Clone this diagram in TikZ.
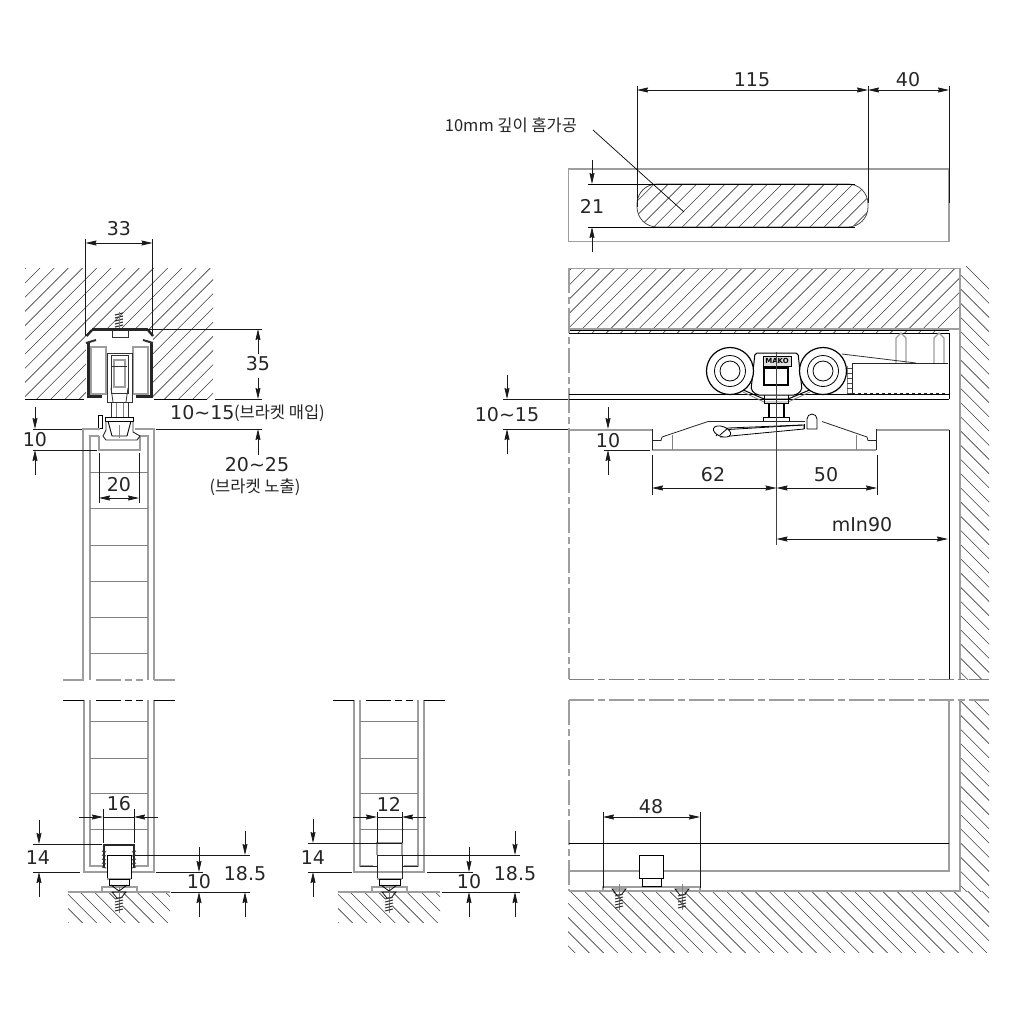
\documentclass[tikz,border=0pt]{standalone}
\usepackage{fontspec}
\setmainfont{DejaVu Sans}
\newfontfamily\krfont{Noto Sans CJK KR}
\usetikzlibrary{arrows.meta}
\definecolor{linegray}{gray}{0.62}
\tikzset{
	dimplain/.style={inner sep=0pt,font=\fontsize{19}{19}\selectfont,text=black!85},
	krtext/.style={inner sep=0pt,font=\krfont\fontsize{16.5}{16.5}\selectfont,text=black!85},
	dimline/.style={line width=0.8pt,black!90},
	dimarrow/.style={line width=0.8pt,black!90,-{Stealth[inset=1pt,length=11pt,width=5pt]}},
	hatchline/.style={line width=0.6pt,black!75},
	grayline/.style={line width=1.2pt,linegray},
	blackline/.style={line width=0.9pt,black},
	heavyline/.style={line width=3pt,black!85},
	breakline/.style={dash pattern=on 25pt off 4pt on 7pt off 4pt},
	screw/.pic={
		\draw[line width=0.7pt] (-7,0)--(7,0)--(2,6)--(-2,6)--cycle;
		\draw[line width=0.5pt,gray] (0,-5)--(0,21);
		\foreach \t in {7,10,...,19} \draw[line width=1pt,black!80] (-4,\t)--(4,\t-2);
	}
}
\begin{document}
\begin{tikzpicture}[x=1pt,y=-1pt]
	\useasboundingbox[fill=white] (0,0) rectangle (1020,1020);

	% hatching
	\begin{scope}
		\clip (25,268) rectangle (213,399);
		\foreach \i in {-10,...,22} \draw[hatchline] (40+14.2*\i,268)--++(-140,140);
	\end{scope}
	\begin{scope}
		\clip (569,268) rectangle (960,333);
		\foreach \i in {0,...,30} \draw[hatchline] (572+14.2*\i,268)--++(-70,70);
	\end{scope}
	\begin{scope}
		\clip (960,266) rectangle (989,679);
		\foreach \i in {0,...,32} \draw[hatchline] (960,260+14.2*\i)--++(40,40);
	\end{scope}
	\begin{scope}
		\clip (960,700) rectangle (989,891);
		\foreach \i in {0,...,16} \draw[hatchline] (960,672+14.2*\i)--++(40,40);
	\end{scope}
	\begin{scope}
		\clip (568,891) rectangle (989,952);
		\foreach \i in {-5,...,30} \draw[hatchline] (570+14.2*\i,891)--++(70,70);
	\end{scope}
	\begin{scope}
		\clip[rounded corners=20pt] (637,184) rectangle (868,227);
		\foreach \i in {0,...,20} \draw[hatchline] (640+14.2*\i,184)--++(-50,50);
	\end{scope}

	% slot in door edge
	\draw[grayline] (568.5,169) rectangle (949,241.5);
	\draw[line width=0.8pt,black!70,rounded corners=20pt] (637,184) rectangle (868,227);
	\draw[blackline] (588,184)--(855,184);
	\draw[blackline] (588,227)--(855,227);
	\draw[dimline] (637,86)--(637,207);
	\draw[dimline] (868,86)--(868,203);
	\draw[dimline] (949,86)--(949,203);
	\draw[dimarrow] (680,90)--(637,90);
	\draw[dimarrow] (820,90)--(868,90);
	\draw[dimline] (680,90)--(820,90);
	\draw[dimarrow] (890,90)--(868,90);
	\draw[dimarrow] (925,90)--(949,90);
	\draw[dimline] (890,90)--(925,90);
	\node[dimplain] (d115) at (752,80) {115};
	\node[dimplain] (d40) at (908,80) {40};
	\node[krtext] (slotlabel) at (511,125) {10mm 깊이 홈가공};
	\coordinate (slotend) at (684,212);
	\draw[line width=0.7pt] (593,130)--(slotend);
	\draw[dimarrow] (592,160)--(592,184);
	\draw[dimarrow] (592,252)--(592,227);
	\node[dimplain] (d21) at (592,206) {21};

	% section, ceiling and track
	\fill[white] (85.5,330) rectangle (152.5,399.5);
	\draw[blackline] (25,399.5)--(84,399.5);
	\draw[blackline] (154,399.5)--(207,399.5);
	\draw[dimline] (85.5,239)--(85.5,336);
	\draw[dimline] (152.5,239)--(152.5,336);
	\draw[dimarrow] (107,243)--(85.5,243);
	\draw[dimarrow] (131,243)--(152.5,243);
	\draw[dimline] (107,243)--(131,243);
	\node[dimplain] (d33) at (119,229) {33};
	\foreach \t in {314,317,...,326} \draw[line width=1.2pt,black!80] (115,\t+1)--(123,\t-1);
	\draw[line width=0.5pt,gray] (119,312)--(119,329);
	\draw[line width=2.4pt,black!85] (92,329.5)--(148,329.5);
	\draw[line width=2.4pt,black!85,line join=bevel] (86.5,336)--(92,330);
	\draw[line width=2.4pt,black!85,line join=bevel] (153,336)--(148,330);
	\draw[line width=1pt,black!80] (112,331)--(112,337)--(128,337)--(128,331);
	\draw[heavyline] (88,342)--(88,396.5)--(102,396.5);
	\draw[heavyline] (151,342)--(151,396.5)--(136,396.5);
	\draw[line width=2pt,black!80] (86,343)--(96,340);
	\draw[line width=2pt,black!80] (153,343)--(143,340);
	\draw[grayline] (91,347) rectangle (106,394);
	\draw[grayline] (133,347) rectangle (148,394);
	\draw[line width=0.8pt,black!80] (107,353) rectangle (132,402);
	\draw[line width=0.8pt,black!80] (111,355) rectangle (128,393);
	\draw[grayline] (114,360) rectangle (125,387);
	\draw[line width=0.8pt,black!80] (112,366)--(127,366);
	\draw[line width=0.8pt,black!80] (111,388)--(113,402);
	\draw[line width=0.8pt,black!80] (128,388)--(126,402);
	\draw[line width=1pt,black!80] (111,403)--(111,417);
	\draw[line width=1pt,black!80] (128,403)--(128,417);
	\draw[line width=0.5pt,gray] (116,403)--(116,417);
	\draw[line width=0.5pt,gray] (123,403)--(123,417);
	\draw[line width=0.9pt] (105,417) rectangle (133,421);
	\draw[line width=0.9pt] (98,415) rectangle (102,428);
	\draw[dimline] (148,329)--(262,329);
	\draw[dimline] (215,399.5)--(262,399.5);
	\draw[dimarrow] (258,354)--(258,329);
	\draw[dimarrow] (258,378)--(258,399);
	\node[dimplain] (d35) at (258,364) {35};
	\node[dimplain,anchor=west] (d1015) at (170,413) {10\char`\~15};
	\node[krtext,anchor=east] (d1015kr) at (325,413) {(브라켓 매입)};
	\node[dimplain] (d2025) at (257,465) {20\char`\~25};
	\node[krtext] (d2025kr) at (255,487) {(브라켓 노출)};
	\draw[dimline] (156,429)--(262,429);
	\draw[dimarrow] (258,455)--(258,429);

	% door in section, upper part
	\draw[grayline] (83,680)--(83,429)--(100,429);
	\draw[grayline] (135,429)--(154,429)--(154,680);
	\draw[grayline] (90,680)--(90,436)--(99,436);
	\draw[grayline] (148,680)--(148,436)--(140,436);
	\draw[grayline] (99,436)--(99,450)--(140,450)--(140,436);
	\draw[line width=0.9pt,black!85] (106,421)--(106,430)--(103,436)--(106,440)--(137,440)--(140,436)--(133,432)--(133,421);
	\draw[line width=0.9pt] (108,421)--(112,436)--(127,436)--(131,421);
	\draw[line width=0.5pt,gray] (119,425)--(119,438);
	\foreach \y in {472,508,545,581,617,653} \draw[line width=0.8pt,gray] (90,\y)--(148,\y);
	\draw[grayline] (63,680)--(84,680);
	\draw[grayline] (154,680)--(175,680);
	\draw[grayline,breakline] (96,680)--(143,680);
	\draw[dimline] (33,429)--(82,429);
	\draw[dimline] (33,450)--(97,450);
	\draw[dimarrow] (35,407)--(35,429);
	\draw[dimarrow] (35,475)--(35,450);
	\node[dimplain] (d10a) at (35,440) {10};
	\draw[dimline] (99,453)--(99,503);
	\draw[dimline] (139,453)--(139,503);
	\draw[dimarrow] (119,498)--(99,498);
	\draw[dimarrow] (119,498)--(139,498);
	\node[dimplain] (d20) at (119,485) {20};

	% lower part of the two sections
	\foreach \dx in {0,270} {
		\begin{scope}[xshift=\dx pt]
			\begin{scope}
				\clip (68,892) rectangle (170,922);
				\foreach \i in {-3,...,8} \draw[hatchline] (80+14.2*\i,892)--++(35,35);
			\end{scope}
			\fill[white] (115,892) rectangle (123,913);
			\draw[grayline] (68,892)--(170,892);
			\draw[grayline] (84,700)--(84,872)--(154,872)--(154,700);
			\draw[grayline] (90,700)--(90,866)--(103,866);
			\draw[grayline] (148,700)--(148,866)--(134,866);
			\foreach \y in {721,758,793,829} \draw[line width=0.8pt,gray] (90,\y)--(148,\y);
			\draw[blackline] (63,700)--(84,700);
			\draw[blackline] (154,700)--(175,700);
			\draw[blackline,breakline] (96,700)--(143,700);
			\draw[grayline] (102,887) rectangle (137,892);
			\pic at (119,892) {screw};
		\end{scope}
	}

	% lower guide, left section
	\fill[white] (103,845) rectangle (135,871);
	\draw[line width=2.2pt,black!85] (104,868)--(104,845)--(134,845)--(134,868);
	\foreach \y in {851,855,...,867} {
		\draw[line width=1pt,black!80] (102,\y)--(106,\y+1);
		\draw[line width=1pt,black!80] (132,\y+1)--(136,\y);
	}
	\fill[white] (107,855) rectangle (131,879);
	\draw[blackline] (107,855)--(107,879);
	\draw[blackline] (131,855)--(131,879);
	\draw[blackline] (107,855)--(131,855);
	\draw[grayline] (107,879)--(131,879);
	\draw[line width=0.9pt] (109,879) rectangle (129,885);
	\draw[line width=0.8pt] (111,885)--(119,891)--(127,885);
	\draw[dimline] (103,809)--(103,843);
	\draw[dimline] (134,809)--(134,843);
	\draw[dimarrow] (79,817)--(103,817);
	\draw[dimarrow] (158,817)--(134,817);
	\draw[dimline] (103,817)--(134,817);
	\node[dimplain] (d16) at (119,804) {16};
	\draw[dimline] (33,844)--(102,844);
	\draw[dimline] (33,872)--(80,872);
	\draw[dimarrow] (39,820)--(39,844);
	\draw[dimarrow] (39,897)--(39,872);
	\node[dimplain] (d14a) at (38,858) {14};
	\draw[dimline] (135,855)--(250,855);
	\draw[dimline] (156,872)--(203,872);
	\draw[dimline] (171,892)--(250,892);
	\draw[dimarrow] (199,847)--(199,872);
	\draw[dimarrow] (199,917)--(199,892);
	\node[dimplain] (d10b) at (199,882) {10};
	\draw[dimarrow] (245,831)--(245,855);
	\draw[dimarrow] (245,917)--(245,892);
	\node[dimplain] (d185a) at (245,874) {18.5};

	% lower guide, middle section
	\fill[white] (377,843) rectangle (402,871);
	\draw[grayline] (377,855)--(377,843)--(402,843)--(402,855);
	\draw[line width=1pt,black!85] (377,879)--(377,855)--(402,855)--(402,879);
	\draw[grayline] (377,879)--(402,879);
	\draw[line width=0.9pt,black!85] (360,866)--(377,866);
	\draw[line width=0.9pt,black!85] (402,866)--(418,866);
	\draw[line width=0.9pt] (379,879) rectangle (400,885);
	\draw[line width=0.8pt] (381,885)--(389,891)--(397,885);
	\draw[dimline] (377,812)--(377,843);
	\draw[dimline] (402,812)--(402,843);
	\draw[dimarrow] (353,817)--(377,817);
	\draw[dimarrow] (426,817)--(402,817);
	\draw[dimline] (377,817)--(402,817);
	\node[dimplain] (d12) at (389,804) {12};
	\draw[dimline] (308,843)--(402,843);
	\draw[dimline] (308,872)--(352,872);
	\draw[dimarrow] (313,819)--(313,843);
	\draw[dimarrow] (313,897)--(313,872);
	\node[dimplain] (d14b) at (313,858) {14};
	\draw[dimline] (402,855)--(520,855);
	\draw[dimline] (427,872)--(473,872);
	\draw[dimline] (442,892)--(520,892);
	\draw[dimarrow] (469,847)--(469,872);
	\draw[dimarrow] (469,917)--(469,892);
	\node[dimplain] (d10c) at (469,882) {10};
	\draw[dimarrow] (515,831)--(515,855);
	\draw[dimarrow] (515,917)--(515,892);
	\node[dimplain] (d185b) at (515,874) {18.5};

	% elevation, walls
	\draw[grayline] (569,268.5)--(960,268.5);
	\draw[grayline] (569,329)--(960,329);
	\draw[blackline] (569,330.5)--(949,330.5);
	\draw[blackline] (569,333)--(949,333);
	\draw[grayline] (960,268)--(960,679);
	\draw[grayline] (960,700)--(960,891)--(569,891);
	\draw[grayline,breakline] (569,268)--(569,679);
	\draw[grayline,breakline] (569,700)--(569,891);
	\draw[blackline] (949,333)--(949,399);
	\draw[blackline] (569,394)--(949,394);
	\draw[blackline] (569,399)--(949,399);
	\draw[grayline] (569,430)--(652,430);
	\draw[grayline] (876,430)--(949,430);
	\draw[blackline] (949,430)--(949,679);
	\draw[grayline] (949,700)--(949,871)--(569,871);
	\draw[blackline] (569,843)--(949,843);
	\draw[line width=1pt,gray,breakline] (569,679.5)--(989,679.5);
	\draw[grayline,breakline] (569,700)--(989,700);

	% elevation, damper and carriage
	\foreach \x in {896,934} \draw[grayline] (\x,363)--(\x,338)--(\x+5,333)--(\x+10,338)--(\x+10,363);
	\draw[line width=0.8pt,black!80] (842,354)--(916,363);
	\draw[line width=0.9pt,black!85] (852,394)--(852,363)--(948,363);
	\draw[line width=0.9pt,black!85,dashed] (852,393)--(948,393);
	\draw[line width=0.8pt,gray] (847,366)--(847,393);
	\foreach \y in {368,373,...,393} \draw[line width=0.7pt,black!70] (847,\y)--(852,\y);
	\draw[line width=1pt,fill=white,rounded corners=2pt] (755,353)--(798,353)--(802,390)--(796,395)--(757,395)--(751,390)--cycle;
	\draw[line width=1pt] (741,389)--(764,399)--(788,399)--(812,389);
	\draw[line width=0.8pt,gray] (743,392)--(764,402)--(788,402)--(810,392);
	\foreach \x in {730,823} {
		\draw[line width=1.2pt,fill=white] (\x,371) circle (23.5pt);
		\draw[line width=0.8pt] (\x,371) circle (15.5pt);
		\draw[line width=0.8pt] (\x,371) circle (10pt);
	}
	\draw[line width=0.8pt,fill=gray!25] (763,356) rectangle (791,366);
	\node[inner sep=0pt,font=\bfseries\fontsize{7}{7}\selectfont] (maker) at (777,361) {MAKO};
	\draw[line width=1.4pt] (764,368) rectangle (788,385);
	\draw[line width=0.8pt] (764,395)--(764,403)--(788,403)--(788,395);
	\draw[line width=1.2pt] (769,403)--(769,417);
	\draw[line width=1.2pt] (784,403)--(784,417);
	\draw[line width=0.8pt] (763,417) rectangle (789,421);

	% elevation, bracket on the door
	\draw[grayline] (652,450)--(876,450);
	\draw[line width=0.8pt,black!85] (652,429)--(652,450);
	\draw[line width=0.8pt,black!85] (876,429)--(876,450);
	\draw[line width=0.8pt,black!85] (652,440.5)--(661,440.5)--(662,437)--(708,421.5)--(805,421.5);
	\draw[line width=0.8pt,black!85] (822,421.5)--(867,437)--(868,440.5)--(876,440.5);
	\draw[line width=0.8pt,gray] (672,435)--(672,450);
	\draw[line width=0.8pt,gray] (856,435)--(856,450);
	\draw[line width=0.8pt] (716,436)--(720,430)--(804,425)--(804,429)--(720,437);
	\draw[line width=0.8pt,fill=white,rotate around={-20:(722,431.5)}] (722,431.5) ellipse (9pt and 5pt);
	\draw[line width=0.8pt] (720,435)--(728,428)--(802,425);
	\draw[line width=0.8pt] (804,429)--(804,424);
	\draw[line width=0.8pt,fill=white] (807,429)--(807,419)arc(180:0:5pt)--(817,429)--cycle;
	\draw[line width=0.6pt,black!75] (776.5,352)--(776.5,545);

	% elevation, dimensions
	\draw[dimline] (503,399)--(568,399);
	\draw[dimline] (503,429)--(568,429);
	\draw[dimarrow] (507,375)--(507,399);
	\draw[dimarrow] (507,454)--(507,429);
	\node[dimplain] (d1015b) at (507,415) {10\char`\~15};
	\draw[dimline] (604,450)--(650,450);
	\draw[dimarrow] (608,407)--(608,429);
	\draw[dimarrow] (608,475)--(608,450);
	\node[dimplain] (d10d) at (608,441) {10};
	\draw[dimline] (652,455)--(652,495);
	\draw[dimline] (877,455)--(877,495);
	\draw[dimarrow] (700,488)--(652,488);
	\draw[dimarrow] (728,488)--(776.5,488);
	\draw[dimline] (700,488)--(728,488);
	\draw[dimarrow] (810,488)--(776.5,488);
	\draw[dimarrow] (845,488)--(877,488);
	\draw[dimline] (810,488)--(845,488);
	\node[dimplain] (d62) at (713,475) {62};
	\node[dimplain] (d50) at (826,475) {50};
	\draw[dimarrow] (840,539)--(776.5,539);
	\draw[dimarrow] (880,539)--(948,539);
	\draw[dimline] (840,539)--(880,539);
	\node[dimplain] (dmin) at (862,525) {mIn90};

	% elevation, floor guide
	\draw[grayline] (603,887) rectangle (700,891);
	\draw[dimline] (603,812)--(603,888);
	\draw[dimline] (700,812)--(700,888);
	\draw[dimarrow] (635,817)--(603,817);
	\draw[dimarrow] (668,817)--(700,817);
	\draw[dimline] (635,817)--(668,817);
	\node[dimplain] (d48) at (651,807) {48};
	\fill[white] (639,855) rectangle (663,878);
	\draw[line width=0.9pt] (639,855) rectangle (663,878);
	\draw[line width=0.9pt] (642,878) rectangle (661,886);
	\pic at (619,889) {screw};
	\pic at (682,889) {screw};
\end{tikzpicture}
\end{document}
